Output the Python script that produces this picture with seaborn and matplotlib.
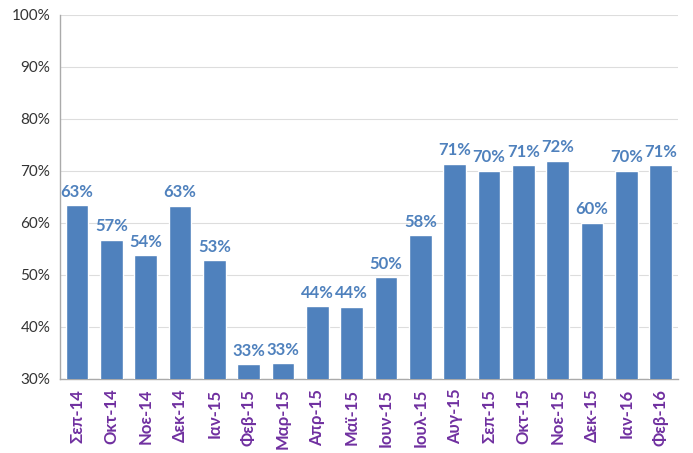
import matplotlib
matplotlib.use("Agg")
import matplotlib.pyplot as plt
import seaborn as sns
import pandas as pd
import numpy as np

months = ["Σεπ-14", "Οκτ-14", "Νοε-14", "Δεκ-14", "Ιαν-15", "Φεβ-15", "Μαρ-15",
          "Απρ-15", "Μαϊ-15", "Ιουν-15", "Ιουλ-15", "Αυγ-15", "Σεπ-15", "Οκτ-15",
          "Νοε-15", "Δεκ-15", "Ιαν-16", "Φεβ-16"]
values = [63.4, 56.8, 53.8, 63.3, 52.8, 32.8, 33.0, 44.0, 43.9, 49.6, 57.6,
          71.4, 70.0, 71.1, 72.0, 60.0, 70.0, 71.1]
yticks = [30, 40, 50, 60, 70, 80, 90, 100]

sns.set_theme(style="white")
plt.rcParams['font.family'] = ['Lato', 'DejaVu Sans']

df = pd.DataFrame({"month": months, "value": values})

fig = plt.figure(figsize=(6.93, 4.53), dpi=100)
ax = fig.add_axes([0.0866, 0.1634, 0.978 - 0.0866, 0.9669 - 0.1634])

sns.barplot(data=df, x="month", y="value", color="#4F81BD", saturation=1,
            width=0.66, ax=ax, zorder=3)

ax.set_ylim(30, 100)
ax.set_xlim(-0.5, len(months) - 0.5)
ax.set_yticks(yticks)
ax.set_yticklabels([f"{t}%" for t in yticks], fontsize=11, color="#333333")
ax.grid(axis="y", color="#DDDDDD", linewidth=0.8, zorder=0)
ax.set_xlabel("")
ax.set_ylabel("")

for s in ["top", "right"]:
    ax.spines[s].set_visible(False)
for s in ["left", "bottom"]:
    ax.spines[s].set_color("#AAAAAA")
    ax.spines[s].set_linewidth(1.0)

ax.tick_params(axis="y", length=4, color="#AAAAAA", direction="out", pad=3)
ax.tick_params(axis="x", which="major", length=0, pad=7)
ax.set_xticks(np.arange(-0.5, len(months), 1), minor=True)
ax.tick_params(axis="x", which="minor", length=4, color="#AAAAAA", direction="out")

ax.set_xticks(range(len(months)))
ax.set_xticklabels(months, rotation=90, fontsize=12, fontweight="bold", color="#7030A0")

labels = [f"{round(v)}%" for v in values]
ax.bar_label(ax.containers[0], labels=labels, padding=4, fontsize=12,
             fontweight="bold", color="#4F81BD")

fig.savefig("out.png", dpi=100)
